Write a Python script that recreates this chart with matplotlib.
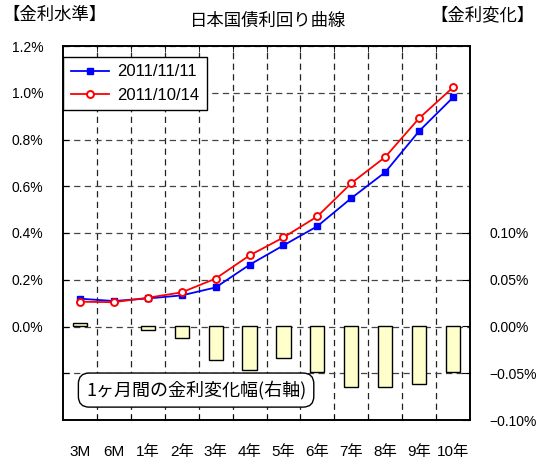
import matplotlib
matplotlib.use("Agg")
import matplotlib.pyplot as plt
from matplotlib.ticker import FixedLocator, FuncFormatter

JP = ["Noto Sans CJK JP", "DejaVu Sans"]
NUM = ["Liberation Sans Narrow", "Liberation Sans"]
MIXED = ["Liberation Sans", "Noto Sans CJK JP"]

# 年限別の利回り (%)
tenors = ["3M", "6M", "1年", "2年", "3年", "4年", "5年", "6年", "7年", "8年", "9年", "10年"]
yield_nov11 = [0.119, 0.109, 0.120, 0.133, 0.167, 0.264, 0.347, 0.429, 0.549, 0.660, 0.836, 0.980]
yield_oct14 = [0.106, 0.104, 0.123, 0.146, 0.205, 0.304, 0.381, 0.471, 0.613, 0.725, 0.891, 1.023]
# 1ヶ月間の変化幅 (%)
change_1m = [0.004, 0.0, -0.004, -0.012, -0.036, -0.046, -0.034, -0.049, -0.065, -0.065, -0.061, -0.049]

x = list(range(len(tenors)))

fig = plt.figure(figsize=(5.39, 4.59), dpi=100)
ax = fig.add_axes([63 / 539, 1 - 420 / 459, 407 / 539, 374 / 459])
ax2 = ax.twinx()

# 左軸: 金利水準
ax.set_xlim(-0.5, len(tenors) - 0.5)
ax.set_ylim(-0.4, 1.2)
ax.yaxis.set_major_locator(FixedLocator([-0.2, 0.0, 0.2, 0.4, 0.6, 0.8, 1.0, 1.2]))
ax.yaxis.set_major_formatter(FuncFormatter(lambda v, p: "" if v < -0.01 else f"{v:.1f}%"))
ax.tick_params(axis="y", direction="in", length=4, pad=14, labelsize=10)
for lab in ax.get_yticklabels():
    lab.set_family(NUM)
ax.grid(axis="y", color="#444444", linestyle=(0, (5, 3.5)), linewidth=0.9)

# 年限の境目に縦の破線
ax.set_xticks(x)
ax.set_xticklabels(tenors, family=MIXED, fontsize=11)
ax.set_xticks([i + 0.5 for i in x[:-1]], minor=True)
ax.tick_params(axis="x", which="major", length=0, pad=18)
ax.tick_params(axis="x", which="minor", direction="in", length=4, top=True, bottom=True)
ax.grid(axis="x", which="minor", color="#222222", linestyle=(0, (5, 3.5)), linewidth=0.9)

ax.plot(x, yield_nov11, color="#0000ff", linewidth=1.3, marker="s", markersize=4.5,
        label="2011/11/11", zorder=3)
ax.plot(x, yield_oct14, color="#ff0000", linewidth=1.3, marker="o", markersize=5,
        markerfacecolor="white", markeredgewidth=1.4, label="2011/10/14", zorder=4)

leg = ax.legend(loc="upper left", bbox_to_anchor=(0, 1 - 11 / 374), borderaxespad=0,
                fancybox=False, edgecolor="black", framealpha=1, handlelength=2.3,
                prop={"family": "Liberation Sans", "size": 12}, borderpad=0.45,
                labelspacing=0.5, handletextpad=0.5)
leg.get_frame().set_linewidth(1.0)

# 右軸: 金利変化 (変化なしの年限は棒を描かない)
ax2.set_ylim(-0.1, 0.3)
ax2.yaxis.set_major_locator(FixedLocator([-0.1, -0.05, 0.0, 0.05, 0.1]))
ax2.yaxis.set_major_formatter(FuncFormatter(lambda v, p: f"{v:.2f}%".replace("-", "\u2212")))
ax2.tick_params(axis="y", direction="in", length=6, pad=14, labelsize=10)
for lab in ax2.get_yticklabels():
    lab.set_family(NUM)
bar_x = [i for i, c in zip(x, change_1m) if c != 0]
bar_v = [c for c in change_1m if c != 0]
ax2.bar(bar_x, bar_v, width=0.42, color="#ffffcc", edgecolor="black", linewidth=1.0, zorder=2)

for a in (ax, ax2):
    for s in a.spines.values():
        s.set_linewidth(1.2)
        s.set_color("black")

ax2.text(0.327, 0.08, "1ヶ月間の金利変化幅(右軸)", transform=ax2.transAxes, family=JP,
         fontsize=13, ha="center", va="center", zorder=5,
         bbox=dict(boxstyle="round,pad=0.42,rounding_size=0.6", facecolor="white",
                   edgecolor="black", linewidth=1.0))

fig.text(268 / 539, 1 - 21 / 459, "日本国債利回り曲線", family=JP, fontsize=12.5,
         ha="center", va="center")
fig.text(2 / 539, 1 - 15 / 459, "【金利水準】", family=JP, fontsize=12.5, ha="left", va="center")
fig.text(535 / 539, 1 - 15 / 459, "【金利変化】", family=JP, fontsize=12.5, ha="right", va="center")

fig.savefig("out.png", dpi=100)
